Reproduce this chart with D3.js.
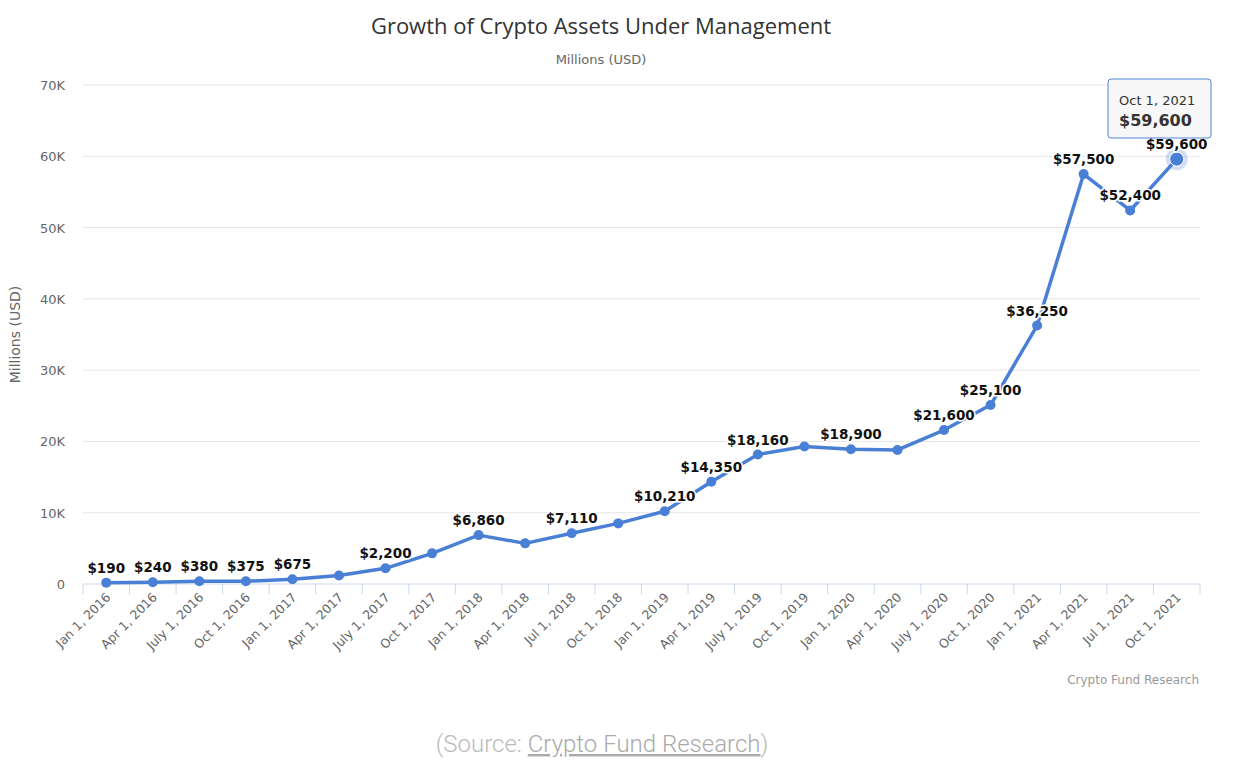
<!DOCTYPE html>
<html><head><meta charset="utf-8">
<script src="https://cdn.jsdelivr.net/npm/d3@7"></script>
<style>body{margin:0;background:#fff;font-family:"DejaVu Sans",sans-serif}</style>
</head><body>
<svg id="chart" width="1237" height="765"></svg>
<script>
var dates = ["Jan 1, 2016","Apr 1, 2016","July 1, 2016","Oct 1, 2016","Jan 1, 2017","Apr 1, 2017","July 1, 2017","Oct 1, 2017","Jan 1, 2018","Apr 1, 2018","Jul 1, 2018","Oct 1, 2018","Jan 1, 2019","Apr 1, 2019","July 1, 2019","Oct 1, 2019","Jan 1, 2020","Apr 1, 2020","July 1, 2020","Oct 1, 2020","Jan 1, 2021","Apr 1, 2021","Jul 1, 2021","Oct 1, 2021"];
var values = [190,240,380,375,675,1200,2200,4300,6860,5700,7110,8500,10210,14350,18160,19300,18900,18800,21600,25100,36250,57500,52400,59600];
var shown = [1,1,1,1,1,0,1,0,1,0,1,0,1,1,1,0,1,0,1,1,1,1,1,1];
var yTicks = [0,10000,20000,30000,40000,50000,60000,70000];
var yTickText = ["0","10K","20K","30K","40K","50K","60K","70K"];

var svg = d3.select("#chart");
var plotL = 83, plotR = 1200, plotT = 85, plotB = 584;
var x = d3.scalePoint().domain(dates).range([plotL, plotR]).padding(0.5);
var y = d3.scaleLinear().domain([0,70000]).range([plotB, plotT]);
var step = x.step();

svg.append("text").attr("x",601).attr("y",34).attr("text-anchor","middle")
  .attr("font-size","22px").attr("fill","#333").attr("font-family","Open Sans, sans-serif")
  .text("Growth of Crypto Assets Under Management");
svg.append("text").attr("x",601).attr("y",64).attr("text-anchor","middle")
  .attr("font-size","13px").attr("fill","#666").text("Millions (USD)");

// grid
svg.append("g").selectAll("line").data(yTicks.slice(1)).enter().append("line")
  .attr("x1",plotL).attr("x2",plotR).attr("y1",d=>y(d)).attr("y2",d=>y(d))
  .attr("stroke","#e6e6e6");
svg.append("g").selectAll("text").data(yTicks).enter().append("text")
  .attr("x",plotL-18).attr("y",d=>y(d)+5).attr("text-anchor","end")
  .attr("font-size","13px").attr("fill","#666").text((d,i)=>yTickText[i]);
svg.append("text").attr("transform","translate(20,"+((plotT+plotB)/2)+") rotate(-90)")
  .attr("text-anchor","middle").attr("font-size","14px").attr("fill","#666").text("Millions (USD)");

// x axis
svg.append("line").attr("x1",plotL).attr("x2",plotR).attr("y1",plotB).attr("y2",plotB).attr("stroke","#ccd6eb");
svg.append("g").selectAll("line").data(d3.range(dates.length+1)).enter().append("line")
  .attr("x1",i=>plotL+i*step).attr("x2",i=>plotL+i*step).attr("y1",plotB).attr("y2",plotB+10).attr("stroke","#ccd6eb");
svg.append("g").selectAll("text").data(dates).enter().append("text")
  .attr("transform",d=>"translate("+(x(d)+5)+","+(plotB+14)+") rotate(-45)")
  .attr("text-anchor","end").attr("font-size","12.5px").attr("fill","#666").text(d=>d);

// line
var line = d3.line().x((d,i)=>x(dates[i])).y(d=>y(d));
svg.append("path").datum(values).attr("d",line).attr("fill","none")
  .attr("stroke","#4a7fd6").attr("stroke-width",3.5).attr("stroke-linejoin","round");
svg.append("circle").attr("cx",x(dates[23])).attr("cy",y(values[23])).attr("r",11)
  .attr("fill","#4a7fd6").attr("opacity",0.25);
svg.append("g").selectAll("circle").data(values).enter().append("circle")
  .attr("cx",(d,i)=>x(dates[i])).attr("cy",d=>y(d)).attr("r",(d,i)=>i==23?7:5)
  .attr("fill","#4a7fd6").attr("stroke",(d,i)=>i==23?"#fff":"none");
var labelData = values.map((v,i)=>({v:v,i:i})).filter(d=>shown[d.i]);
svg.append("g").selectAll("text").data(labelData).enter().append("text")
  .attr("x",d=>x(dates[d.i])).attr("y",d=>y(d.v)-10).attr("text-anchor","middle")
  .attr("font-size","13.5px").attr("font-weight","bold").attr("fill","#111")
  .attr("stroke","#fff").attr("stroke-width",3).attr("paint-order","stroke")
  .text(d=>"$"+d3.format(",")(d.v));

// tooltip
var tt = svg.append("g").attr("transform","translate(1108,79)");
tt.append("rect").attr("width",103).attr("height",59).attr("rx",3).attr("fill","#f7f7f7")
  .attr("stroke","#4a7fd6").attr("opacity",0.95);
tt.append("text").attr("x",11).attr("y",26).attr("font-size","13px").attr("fill","#333").text("Oct 1, 2021");
tt.append("text").attr("x",11).attr("y",47).attr("font-size","16px").attr("font-weight","bold").attr("fill","#333").text("$"+d3.format(",")(values[23]));

svg.append("text").attr("x",1199).attr("y",684).attr("text-anchor","end").attr("font-size","12px")
  .attr("fill","#999").text("Crypto Fund Research");
var src = svg.append("text").attr("x",602).attr("y",752).attr("text-anchor","middle")
  .attr("font-size","24px").attr("fill","#bbb").attr("font-family","Roboto, sans-serif").attr("font-weight",300);
src.append("tspan").text("(Source: ");
src.append("tspan").attr("text-decoration","underline").attr("fill","#aaa").text("Crypto Fund Research");
src.append("tspan").text(")");
</script>
</body></html>
